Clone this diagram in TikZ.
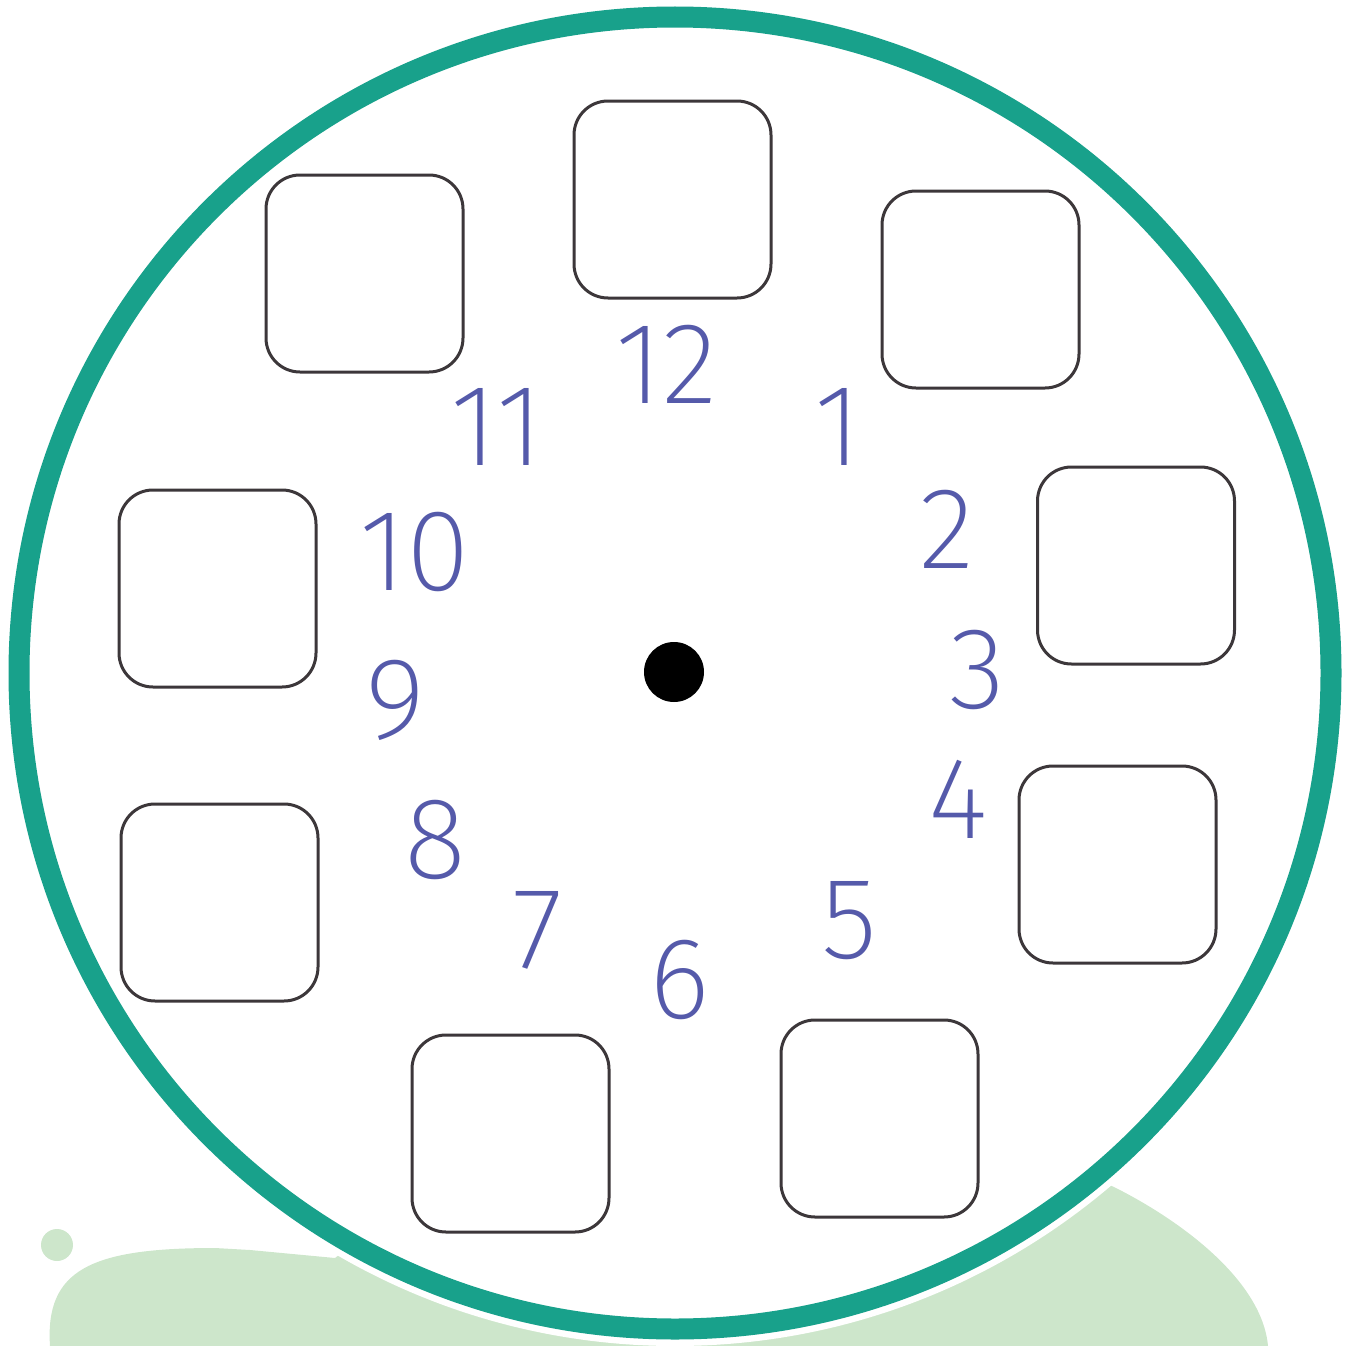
\documentclass[tikz,border=0pt]{standalone}
\usepackage{fontspec}
\IfFontExistsTF{Fira Sans UltraLight}{\newfontfamily\numfont{Fira Sans UltraLight}}{%
 \IfFontExistsTF{Fira Sans ExtraLight}{\newfontfamily\numfont{Fira Sans ExtraLight}}{%
  \IfFontExistsTF{Fira Sans Light}{\newfontfamily\numfont{Fira Sans Light}}{%
   \newfontfamily\numfont{Fira Sans}}}}
\definecolor{ringteal}{RGB}{24,161,139}
\definecolor{blobgreen}{RGB}{205,230,203}
\definecolor{numblue}{RGB}{85,90,170}
\definecolor{boxgray}{RGB}{60,55,58}
\begin{document}
\begin{tikzpicture}[x=1pt,y=-1pt,
  answerbox/.style={draw=boxgray,line width=3pt,rounded corners=34pt,minimum width=197pt,minimum height=197pt,inner sep=0pt,fill=white},
  hour/.style={text=numblue,inner sep=0pt,anchor=base,font=\numfont\fontsize{116}{116}\selectfont}]
\useasboundingbox (0,0) rectangle (1350,1346);
% background blob
\fill[blobgreen] (50,1346) .. controls (45,1270) and (90,1248) .. (215,1248) -- (250,1250) -- (335,1258) -- (675,1000) -- (1114,1187) .. controls (1180,1220) and (1262,1280) .. (1268,1346) -- cycle;
\fill[blobgreen] (57,1245) circle (16);
% clock face
\fill[white] (675,673) circle (673);
\draw[ringteal,line width=21pt] (675,673) circle (656);
% boxes
\node[answerbox] (b12) at (672.5,199.5) {};
\node[answerbox] (b11) at (364.5,273.5) {};
\node[answerbox] (b1) at (980.5,289.5) {};
\node[answerbox] (b10) at (217.5,588.5) {};
\node[answerbox] (b2) at (1136,565.5) {};
\node[answerbox] (b8) at (219.5,902.5) {};
\node[answerbox] (b4) at (1117.5,864.5) {};
\node[answerbox] (b7) at (510.5,1133.5) {};
\node[answerbox] (b5) at (879.5,1118.5) {};
% numbers
\node[hour] (n12) at (666,403) {12};
\node[hour] (n11) at (497,465) {11};
\node[hour] (n1) at (838,465) {1};
\node[hour] (n10) at (415,590) {10};
\node[hour] (n2) at (947,568) {2};
\node[hour] (n9) at (395,738) {9};
\node[hour] (n3) at (977,708) {3};
\node[hour] (n8) at (435,878) {8};
\node[hour] (n4) at (958,838) {4};
\node[hour] (n7) at (538,968) {7};
\node[hour] (n5) at (849,958) {5};
\node[hour] (n6) at (680,1018) {6};
% centre
\fill[black] (674,672) circle (30) node (c) {};
\end{tikzpicture}
\end{document}
